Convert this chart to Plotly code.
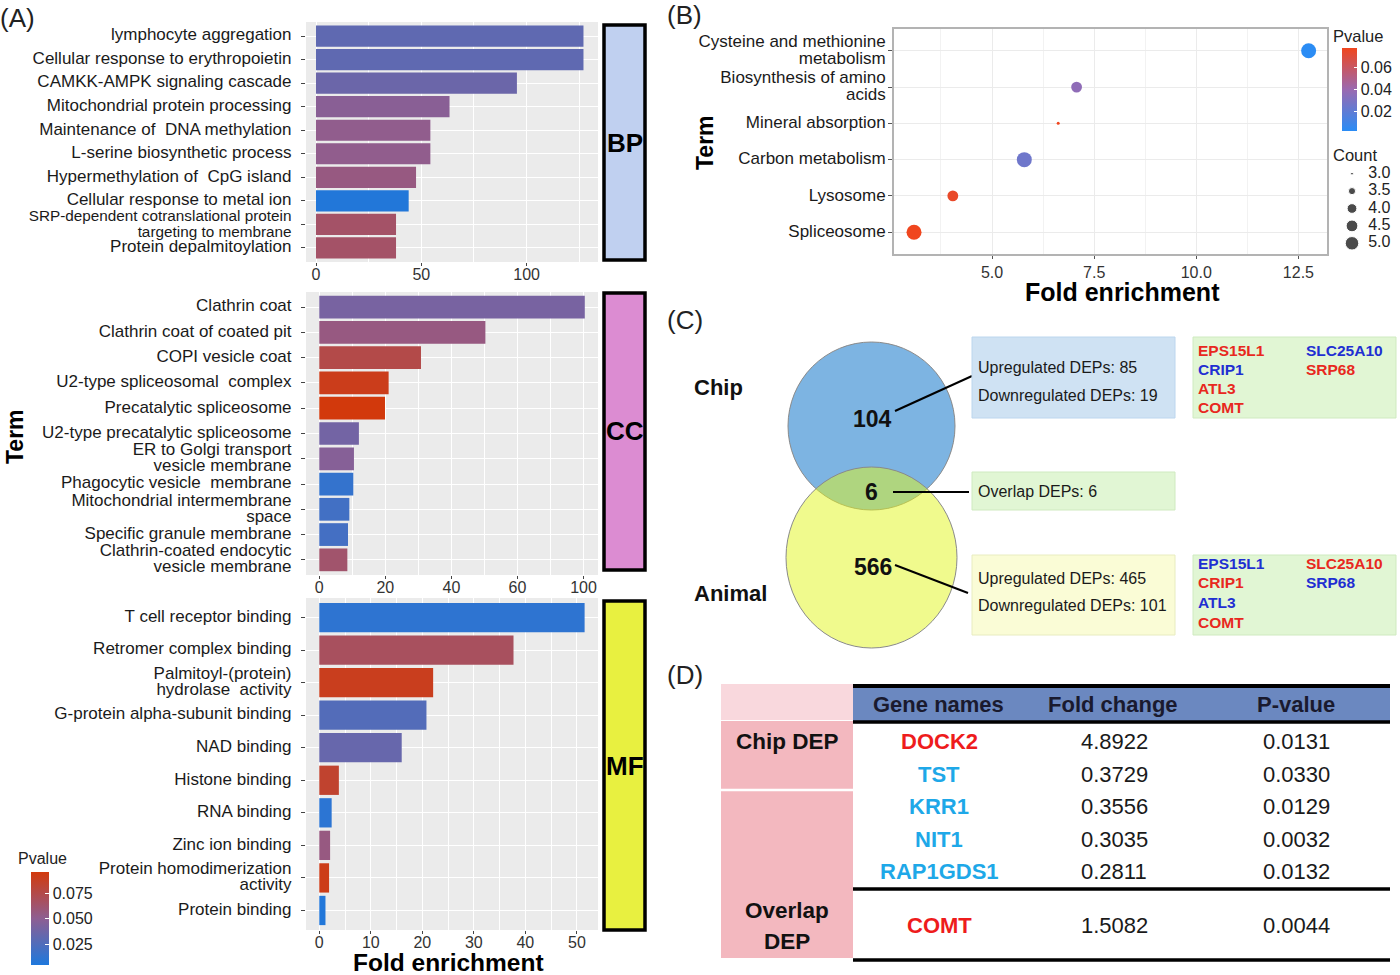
import numpy as np
import plotly.graph_objects as go

W, H = 1400, 975
FONT = "Liberation Sans, Arial, sans-serif"

# ---------------- Panel A data ----------------
bp_terms = ["lymphocyte aggregation", "Cellular response to erythropoietin",
            "CAMKK-AMPK signaling cascade", "Mitochondrial protein processing",
            "Maintenance of  DNA methylation", "L-serine biosynthetic process",
            "Hypermethylation of  CpG island", "Cellular response to metal ion",
            "SRP-dependent cotranslational protein<br>targeting to membrane",
            "Protein depalmitoylation"]
bp_fold = [127, 127, 95.4, 63.4, 54.3, 54.3, 47.5, 44, 38, 38]
bp_pval = [0.031, 0.031, 0.036, 0.048, 0.052, 0.052, 0.056, 0.006, 0.065, 0.065]

cc_terms = ["Clathrin coat", "Clathrin coat of coated pit", "COPI vesicle coat",
            "U2-type spliceosomal  complex", "Precatalytic spliceosome",
            "U2-type precatalytic spliceosome", "ER to Golgi transport<br>vesicle membrane",
            "Phagocytic vesicle  membrane", "Mitochondrial intermembrane<br>space",
            "Specific granule membrane", "Clathrin-coated endocytic<br>vesicle membrane"]
cc_fold = [80.4, 50.3, 30.8, 21, 19.9, 12, 10.5, 10.3, 9.1, 8.7, 8.5]
cc_pval = [0.041, 0.056, 0.075, 0.091, 0.096, 0.039, 0.047, 0.0135, 0.019, 0.020, 0.063]
cc_tickvals = [0, 20, 40, 60, 80]
cc_ticktext = ["0", "20", "40", "60", "100"]

mf_terms = ["T cell receptor binding", "Retromer complex binding",
            "Palmitoyl-(protein)<br>hydrolase  activity", "G-protein alpha-subunit binding",
            "NAD binding", "Histone binding", "RNA binding", "Zinc ion binding",
            "Protein homodimerization<br>activity", "Protein binding"]
mf_fold = [51.5, 37.7, 22.1, 20.8, 16, 3.8, 2.4, 2.1, 1.9, 1.2]
mf_pval = [0.011, 0.068, 0.090, 0.026, 0.034, 0.084, 0.010, 0.056, 0.092, 0.006]

a_cbar_ticks = [0.025, 0.050, 0.075]

# ---------------- Panel B data ----------------
b_terms = ["Cysteine and methionine<br>metabolism", "Biosynthesis of amino<br>acids",
           "Mineral absorption", "Carbon metabolism", "Lysosome", "Spliceosome"]
b_fold = [12.75, 7.07, 6.62, 5.79, 4.04, 3.09]
b_count = [5, 4, 3, 5, 4, 5]
b_pval = [0.002, 0.036, 0.078, 0.025, 0.075, 0.078]
b_cbar_ticks = [0.02, 0.04, 0.06]
b_count_legend = [3.0, 3.5, 4.0, 4.5, 5.0]
b_xticks = [5.0, 7.5, 10.0, 12.5]

# ---------------- Panel C data ----------------
chip_total, overlap_total, animal_total = 104, 6, 566
chip_up, chip_down = 85, 19
animal_up, animal_down = 465, 101
overlap_genes = ["EPS15L1", "CRIP1", "ATL3", "COMT", "SLC25A10", "SRP68"]
chip_dir = ["up", "down", "up", "up", "down", "up"]
animal_dir = ["down", "up", "down", "up", "up", "down"]

# ---------------- Panel D data ----------------
d_genes = ["DOCK2", "TST", "KRR1", "NIT1", "RAP1GDS1", "COMT"]
d_fold = ["4.8922", "0.3729", "0.3556", "0.3035", "0.2811", "1.5082"]
d_pval = ["0.0131", "0.0330", "0.0129", "0.0032", "0.0132", "0.0044"]
d_dir = ["up", "down", "down", "down", "down", "up"]


def px(x):
    return x / W


def py(y):
    return 1 - y / H


def lab(text, size):
    # big glyphs with a tight line spacing (line spacing follows the base tick font)
    return "<br>".join("<span style='font-size:%.1fpx'>%s</span>" % (size, t) for t in text.split("<br>"))


def lab_a(t):
    return lab(t, 15.3 if t.startswith("SRP") else 17)


fig = go.Figure()

A_SCALE = [[0, "#1e78dc"], [0.5, "#8e5e92"], [1, "#d2390c"]]
B_SCALE = [[0, "#2a8cf5"], [0.5, "#9a69b0"], [1, "#f0461e"]]

for i, (terms, fold, pv) in enumerate([(bp_terms, bp_fold, bp_pval),
                                         (cc_terms, cc_fold, cc_pval),
                                         (mf_terms, mf_fold, mf_pval)]):
    sfx = "" if i == 0 else str(i + 1)
    fig.add_trace(go.Bar(x=fold, y=[lab_a(t) for t in terms], orientation="h", width=0.9,
                         marker=dict(color=pv, coloraxis="coloraxis", line=dict(width=0)),
                         xaxis="x" + sfx, yaxis="y" + sfx, showlegend=False))


def count_to_diam(c):
    return float(np.sqrt(3 ** 2 + (c - 3) / 2 * (15 ** 2 - 3 ** 2)))


b_labels = [lab(t, 17) for t in b_terms]
fig.add_trace(go.Scatter(x=b_fold, y=b_labels, mode="markers",
                         marker=dict(size=[count_to_diam(c) for c in b_count],
                                     color=b_pval, coloraxis="coloraxis2", line=dict(width=0), opacity=1),
                         xaxis="x4", yaxis="y4", showlegend=False))
# Count legend
fig.add_trace(go.Scatter(x=[0.2] * len(b_count_legend), y=b_count_legend, mode="markers",
                         marker=dict(size=[count_to_diam(c) * 0.9 for c in b_count_legend], color="black"),
                         xaxis="x5", yaxis="y5", showlegend=False))
fig.add_trace(go.Scatter(x=[0.47] * len(b_count_legend), y=b_count_legend, mode="text",
                         text=["%.1f" % c for c in b_count_legend], textposition="middle right",
                         textfont=dict(size=16, color="#222", family=FONT),
                         xaxis="x5", yaxis="y5", showlegend=False))

tickfont_y = dict(size=12.3, color="#1a1a1a", family=FONT)
tickfont_x = dict(size=16, color="#333", family=FONT)


def bar_xaxis(rng, anchor, **kw):
    d = dict(domain=[px(306), px(598)], range=rng, showgrid=True, gridcolor="white", gridwidth=1.3,
             zeroline=False, ticks="outside", ticklen=3, tickcolor="#444", tickfont=tickfont_x,
             ticklabelstandoff=-5, showline=False, fixedrange=True, anchor=anchor)
    d.update(kw)
    return d


def bar_yaxis(terms, ytop, ybot, anchor):
    n = len(terms)
    return dict(domain=[py(ybot), py(ytop)], type="category", categoryorder="array",
                categoryarray=[lab_a(t) for t in terms], range=[n - 1 + 0.6, -0.6], showgrid=True,
                gridcolor="white", gridwidth=1.3, ticks="outside", ticklen=4, tickcolor="#444",
                tickfont=tickfont_y, ticklabelstandoff=7, zeroline=False, anchor=anchor, automargin=False)


MINOR = dict(showgrid=True, gridcolor="white", gridwidth=0.6, ticks="")

layout = dict(
    width=W, height=H, margin=dict(l=0, r=0, t=0, b=0), autosize=False,
    paper_bgcolor="white", plot_bgcolor="rgba(0,0,0,0)", font=dict(family=FONT, color="#222"),
    xaxis=bar_xaxis([-4.75, 133.9], "y", dtick=50, tick0=0, minor=dict(dtick=25, tick0=0, **MINOR)),
    yaxis=bar_yaxis(bp_terms, 22, 262, "x"),
    xaxis2=bar_xaxis([-4.02, 84.4], "y2", tickmode="array", tickvals=cc_tickvals, ticktext=cc_ticktext,
                     minor=dict(tickvals=[10, 30, 50, 70], **MINOR)),
    yaxis2=bar_yaxis(cc_terms, 292, 575, "x2"),
    xaxis3=bar_xaxis([-2.58, 54.1], "y3", dtick=10, tick0=0, minor=dict(dtick=5, tick0=0, **MINOR)),
    yaxis3=bar_yaxis(mf_terms, 598, 930, "x3"),
    xaxis4=dict(domain=[px(894), px(1327)], range=[2.6, 13.2], tickmode="array", tickvals=b_xticks,
                ticktext=["%.1f" % v for v in b_xticks], showgrid=True, gridcolor="#ebebeb", gridwidth=1.2,
                minor=dict(tickvals=[3.75, 6.25, 8.75, 11.25], showgrid=True, gridcolor="#f2f2f2",
                           gridwidth=0.8, ticks=""),
                zeroline=False, ticks="outside", ticklen=3, tickcolor="#555", tickfont=tickfont_x,
                showline=True, linecolor="#b3b3b3", linewidth=1.5, mirror=True, anchor="y4"),
    yaxis4=dict(domain=[py(254), py(29)], type="category", categoryorder="array", categoryarray=b_labels,
                range=[len(b_terms) - 1 + 0.6, -0.6], showgrid=True, gridcolor="#ebebeb", gridwidth=1.2,
                ticks="outside", ticklen=4, tickcolor="#555", tickfont=dict(size=13, color="#1a1a1a", family=FONT),
                showline=True, linecolor="#b3b3b3", linewidth=1.5, mirror=True, anchor="x4", automargin=False,
                zeroline=False),
    xaxis5=dict(domain=[px(1340), px(1400)], range=[0, 1], visible=False, anchor="y5"),
    yaxis5=dict(domain=[py(252), py(165)], range=[5.25, 2.75], visible=False, anchor="x5"),
    coloraxis=dict(colorscale=A_SCALE, cmin=0.0043, cmax=0.096,
                   colorbar=dict(x=px(31), xanchor="left", y=py(918.5), yanchor="middle",
                                 len=93, lenmode="pixels", thickness=18, thicknessmode="pixels",
                                 xpad=0, ypad=0,
                                 tickmode="array", tickvals=a_cbar_ticks,
                                 ticktext=["%.3f" % v for v in a_cbar_ticks], ticks="inside",
                                 tickcolor="white", ticklen=4, outlinewidth=0,
                                 tickfont=dict(size=16, color="#222", family=FONT), title=dict(text=""))),
    coloraxis2=dict(colorscale=B_SCALE, cmin=0.0016, cmax=0.078,
                    colorbar=dict(x=px(1342), xanchor="left", y=py(89.5), yanchor="middle",
                                  len=83, lenmode="pixels", thickness=15, thicknessmode="pixels",
                                  xpad=0, ypad=0,
                                  tickmode="array", tickvals=b_cbar_ticks,
                                  ticktext=["%.2f" % v for v in b_cbar_ticks], ticks="inside",
                                  tickcolor="white", ticklen=3, outlinewidth=0,
                                  tickfont=dict(size=16, color="#222", family=FONT), title=dict(text=""))),
)
fig.update_layout(**layout)

shapes = []
annotations = []

# grey ggplot panels for (A)
for ax in ["", "2", "3"]:
    shapes.append(dict(type="rect", xref="x%s domain" % ax, yref="y%s domain" % ax, x0=0, x1=1, y0=0, y1=1,
                       fillcolor="#ebebeb", line=dict(width=0), layer="below"))


def ann(x, y, text, size=15, color="#222", bold=False, xanchor="center", textangle=0):
    t = "<b>%s</b>" % text if bold else text
    annotations.append(dict(x=px(x), y=py(y), xref="paper", yref="paper", text=t, showarrow=False,
                            xanchor=xanchor, yanchor="middle", textangle=textangle,
                            font=dict(size=size, color=color, family=FONT)))


def rect(x0, y0, x1, y1, fill, line_color=None, lw=0):
    shapes.append(dict(type="rect", xref="paper", yref="paper", x0=px(x0), x1=px(x1), y0=py(y1), y1=py(y0),
                       fillcolor=fill, line=dict(color=line_color or fill, width=lw), layer="above"))


def line(x0, y0, x1, y1, color="black", lw=2):
    shapes.append(dict(type="line", xref="paper", yref="paper", x0=px(x0), x1=px(x1), y0=py(y0), y1=py(y1),
                       line=dict(color=color, width=lw), layer="above"))


# Panel labels
ann(-2, 18, "(A)", size=26, xanchor="left")
ann(665, 15, "(B)", size=26, xanchor="left")
ann(665, 320, "(C)", size=26, xanchor="left")
ann(665, 675, "(D)", size=26, xanchor="left")

# Panel A strips
for (y0, y1, fill, lab_s) in [(25, 260, "#c0d0f0", "BP"), (293, 570, "#dc8cd2", "CC"), (601, 930, "#e8f040", "MF")]:
    rect(604, y0, 645, y1, fill, "black", 3.5)
    ann(624.5, (y0 + y1) / 2, lab_s, size=26, color="black", bold=True)

ann(15, 437, "Term", size=23, color="black", bold=True, textangle=-90)
ann(448, 962, "Fold enrichment", size=24.5, color="black", bold=True)
ann(42, 858, "Pvalue", size=16, color="#222")

# Panel B labels
ann(705, 143, "Term", size=23, color="black", bold=True, textangle=-90)
ann(1122, 292, "Fold enrichment", size=25, color="black", bold=True)
ann(1358, 36, "Pvalue", size=16.5, color="#222")
ann(1355, 155, "Count", size=16.5, color="#222")

# Panel C: Venn
shapes.append(dict(type="circle", xref="paper", yref="paper", x0=px(788), x1=px(955), y0=py(510), y1=py(342),
                   fillcolor="#7db4e2", line=dict(color="#8a8a8a", width=1), layer="above"))
shapes.append(dict(type="circle", xref="paper", yref="paper", x0=px(786), x1=px(957), y0=py(648), y1=py(467),
                   fillcolor="rgba(226,246,28,0.5)", line=dict(color="#8a8a8a", width=1), layer="above"))
ann(718, 387, "Chip", size=22, color="#111", bold=True)
ann(730, 593, "Animal", size=22, color="#111", bold=True)
ann(872, 419, str(chip_total), size=23, color="#111", bold=True)
ann(871, 492, str(overlap_total), size=23, color="#111", bold=True)
ann(873, 567, str(animal_total), size=23, color="#111", bold=True)
line(895, 411, 972, 376)
line(893, 492, 969, 492)
line(895, 565, 968, 593)

rect(972, 337, 1175, 418, "#cfe2f3", "#bcd6ee", 1)
rect(1193, 337, 1396, 418, "#e1f6d4", "#cfeac0", 1)
rect(972, 472, 1175, 510, "#e1f6d4", "#cfeac0", 1)
rect(972, 555, 1175, 635, "#fafcd6", "#e8ecc0", 1)
rect(1193, 555, 1396, 635, "#e1f6d4", "#cfeac0", 1)

ann(976, 367, "Upregulated DEPs: %d" % chip_up, size=16, color="#1a1a1a", xanchor="left")
ann(976, 395, "Downregulated DEPs: %d" % chip_down, size=16, color="#1a1a1a", xanchor="left")
ann(976, 492, "Overlap DEPs: %d" % overlap_total, size=16, color="#1a1a1a", xanchor="left")
ann(976, 578, "Upregulated DEPs: %d" % animal_up, size=16, color="#1a1a1a", xanchor="left")
ann(976, 605, "Downregulated DEPs: %d" % animal_down, size=16, color="#1a1a1a", xanchor="left")

DIR_C = {"up": "#e8281e", "down": "#1f2fd2"}
col_pos = [(1196, 0), (1196, 1), (1196, 2), (1196, 3), (1304, 0), (1304, 1)]
for gi, g in enumerate(overlap_genes):
    cx, r = col_pos[gi]
    ann(cx, 350 + r * 19.3, g, size=15.5, color=DIR_C[chip_dir[gi]], bold=True, xanchor="left")
    ann(cx, 563 + r * 19.7, g, size=15.5, color=DIR_C[animal_dir[gi]], bold=True, xanchor="left")

# Panel D: table
rect(721, 684, 853, 720, "#f9d8dd")
rect(721, 721, 853, 958, "#f3b8bf")
line(721, 790, 853, 790, color="white", lw=2.5)
rect(853, 688, 1390, 722, "#6b88c0")
line(853, 686, 1390, 686, lw=4)
line(853, 722, 1390, 722, lw=3.5)
line(853, 889, 1390, 889, lw=3.5)
line(853, 960, 1390, 960, lw=3.5)

ann(938, 704, "Gene names", size=22, color="#1a1a2e", bold=True)
ann(1113, 704, "Fold change", size=22, color="#1a1a2e", bold=True)
ann(1296, 704, "P-value", size=22, color="#1a1a2e", bold=True)
ann(787, 741, "Chip DEP", size=22.5, color="#111", bold=True)
ann(787, 910, "Overlap", size=22.5, color="#111", bold=True)
ann(787, 941, "DEP", size=22.5, color="#111", bold=True)

DIR_D = {"up": "#ee1c1c", "down": "#1ea8e8"}
row_y = [741, 774, 806, 839, 871, 925]
for i, g in enumerate(d_genes):
    ann(939, row_y[i], g, size=22, color=DIR_D[d_dir[i]], bold=True)
    ann(1114, row_y[i], d_fold[i], size=22, color="#1a1a1a")
    ann(1296, row_y[i], d_pval[i], size=22, color="#1a1a1a")

fig.update_layout(shapes=shapes, annotations=annotations)
fig.write_html("out.html", config={"displayModeBar": False},
               post_script="document.documentElement.style.overflow='hidden';"
                           "document.body.style.overflow='hidden';document.body.style.margin='0px';")
